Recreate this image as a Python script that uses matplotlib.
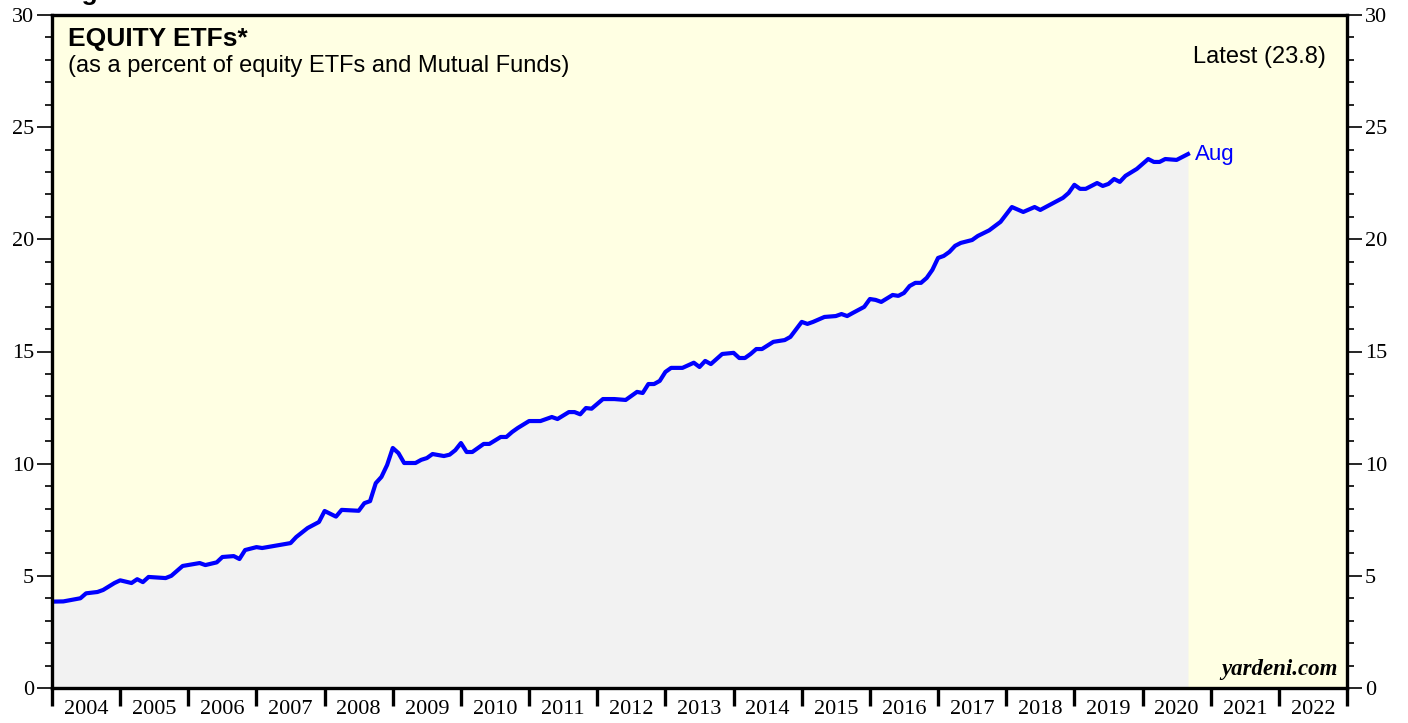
import numpy as np
from matplotlib import pyplot as plt
from matplotlib.ticker import MultipleLocator, FixedLocator, NullFormatter

#------------------------------------------------------------------------------
# Data: equity ETFs as % of equity ETFs + mutual funds (month-end)
#------------------------------------------------------------------------------
dates = [
  "2003-12", "2004-02", "2004-05", "2004-06", "2004-08", "2004-09", "2004-11",
  "2004-12", "2005-02", "2005-03", "2005-04", "2005-05", "2005-08", "2005-09",
  "2005-11", "2006-02", "2006-03", "2006-05", "2006-06", "2006-08", "2006-09",
  "2006-10", "2006-12", "2007-01", "2007-06", "2007-07", "2007-09", "2007-11",
  "2007-12", "2008-02", "2008-03", "2008-06", "2008-07", "2008-08", "2008-09",
  "2008-10", "2008-11", "2008-12", "2009-01", "2009-02", "2009-04", "2009-05",
  "2009-06", "2009-07", "2009-09", "2009-10", "2009-11", "2009-12", "2010-01",
  "2010-02", "2010-04", "2010-05", "2010-07", "2010-08", "2010-09", "2010-10",
  "2010-12", "2011-02", "2011-04", "2011-05", "2011-07", "2011-08", "2011-09",
  "2011-10", "2011-11", "2012-01", "2012-03", "2012-05", "2012-07", "2012-08",
  "2012-09", "2012-10", "2012-11", "2012-12", "2013-01", "2013-03", "2013-05",
  "2013-06", "2013-07", "2013-08", "2013-10", "2013-12", "2014-01", "2014-02",
  "2014-03", "2014-04", "2014-05", "2014-07", "2014-09", "2014-10", "2014-12",
  "2015-01", "2015-02", "2015-04", "2015-06", "2015-07", "2015-08", "2015-09",
  "2015-11", "2015-12", "2016-01", "2016-02", "2016-04", "2016-05", "2016-06",
  "2016-07", "2016-08", "2016-09", "2016-10", "2016-11", "2016-12", "2017-01",
  "2017-02", "2017-03", "2017-04", "2017-06", "2017-07", "2017-09", "2017-11",
  "2018-01", "2018-03", "2018-05", "2018-06", "2018-08", "2018-10", "2018-11",
  "2018-12", "2019-01", "2019-02", "2019-04", "2019-05", "2019-06", "2019-07",
  "2019-08", "2019-09", "2019-11", "2020-01", "2020-02", "2020-03", "2020-04",
  "2020-06", "2020-08",
]
values = [
  3.85, 3.86, 4.00, 4.22, 4.28, 4.37, 4.68,
  4.80, 4.68, 4.85, 4.72, 4.95, 4.90, 5.00,
  5.44, 5.57, 5.48, 5.60, 5.84, 5.88, 5.75,
  6.15, 6.28, 6.24, 6.46, 6.73, 7.13, 7.40,
  7.89, 7.64, 7.94, 7.90, 8.24, 8.33, 9.13,
  9.41, 9.94, 10.70, 10.47, 10.03, 10.03, 10.17,
  10.25, 10.43, 10.34, 10.40, 10.60, 10.92, 10.52,
  10.52, 10.88, 10.88, 11.19, 11.19, 11.41, 11.59,
  11.90, 11.90, 12.08, 11.99, 12.30, 12.30, 12.20,
  12.48, 12.45, 12.88, 12.88, 12.84, 13.20, 13.15,
  13.55, 13.55, 13.69, 14.09, 14.27, 14.27, 14.50,
  14.31, 14.58, 14.44, 14.89, 14.94, 14.71, 14.71,
  14.89, 15.11, 15.11, 15.43, 15.51, 15.65, 16.32,
  16.23, 16.32, 16.54, 16.58, 16.67, 16.58, 16.72,
  16.99, 17.34, 17.30, 17.21, 17.52, 17.48, 17.61,
  17.92, 18.06, 18.06, 18.28, 18.64, 19.17, 19.26,
  19.44, 19.71, 19.84, 19.97, 20.15, 20.40, 20.78,
  21.44, 21.22, 21.44, 21.31, 21.58, 21.85, 22.07,
  22.43, 22.25, 22.25, 22.51, 22.38, 22.47, 22.69,
  22.56, 22.83, 23.14, 23.58, 23.45, 23.45, 23.58,
  23.54, 23.80,
]
years = list( range( 2004, 2023 ) )

# month-end positions in decimal years
x = np.array( [ int( d[:4] ) + int( d[5:] ) / 12.0 for d in dates ] )
y = np.array( values )

#------------------------------------------------------------------------------
# Plot
#------------------------------------------------------------------------------
serif = 'Liberation Serif'
sans = 'Liberation Sans'

fig = plt.figure( figsize=( 14.08, 7.23 ), dpi=100 )
ax = fig.add_axes( [ 52 / 1408, 1 - 688 / 723, 1295 / 1408, 673 / 723 ] )
ax.set_facecolor( '#FFFFE3' )

ax.fill_between( x, 0, y, color='#F2F2F2', lw=0, zorder=1 )
ax.plot( x, y, color='#0000FF', lw=3.0, solid_joinstyle='round', zorder=3 )

ax.set_xlim( years[0], years[-1] + 1 )
ax.set_ylim( 0, 30 )

for s in ax.spines.values():
  s.set_linewidth( 2.4 )
  s.set_zorder( 5 )

# y axis on both sides
ax.yaxis.set_major_locator( MultipleLocator( 5 ) )
ax.yaxis.set_minor_locator( MultipleLocator( 1 ) )
ax.tick_params( axis='y', which='both', left=True, right=True,
                labelleft=True, labelright=True, direction='out',
                width=1.2, labelsize=16, pad=2 )
ax.tick_params( axis='y', which='major', length=11 )
ax.tick_params( axis='y', which='minor', length=5 )
for lab in ax.get_yticklabels():
  lab.set_fontfamily( serif )

# x axis: ticks at year boundaries, labels centred on each year
ax.xaxis.set_major_locator( FixedLocator( years + [ years[-1] + 1 ] ) )
ax.xaxis.set_major_formatter( NullFormatter() )
ax.xaxis.set_minor_locator( FixedLocator( [ yr + 0.5 for yr in years ] ) )
ax.set_xticklabels( [ str( yr ) for yr in years ], minor=True,
                    fontfamily=serif, fontsize=16 )
ax.tick_params( axis='x', which='major', direction='out', length=13, width=2.4 )
ax.tick_params( axis='x', which='minor', length=0, pad=9 )

# text (the figure caption is cut off at the top, as in the original)
fig.text( 58 / 1408, 1.0, 'Figure', ha='left', va='baseline', fontsize=19,
          fontweight='bold', fontfamily=sans )
ax.text( 0.012, 0.982, 'EQUITY ETFs*', transform=ax.transAxes, ha='left',
         va='top', fontsize=19, fontweight='bold', fontfamily=sans )
ax.text( 0.012, 0.941, '(as a percent of equity ETFs and Mutual Funds)',
         transform=ax.transAxes, ha='left', va='top', fontsize=17,
         fontfamily=sans )
ax.text( 0.9835, 0.938, 'Latest (23.8)', transform=ax.transAxes, ha='right',
         va='center', fontsize=17, fontfamily=sans )
ax.text( x[-1] + 0.1, y[-1], 'Aug', color='#0000FF', ha='left', va='center',
         fontsize=16, fontfamily=sans )
ax.text( 0.993, 0.012, 'yardeni.com', transform=ax.transAxes, ha='right',
         va='bottom', fontsize=16.5, fontweight='bold', fontstyle='italic',
         fontfamily=serif )

fig.savefig( 'out.png', dpi=100 )
